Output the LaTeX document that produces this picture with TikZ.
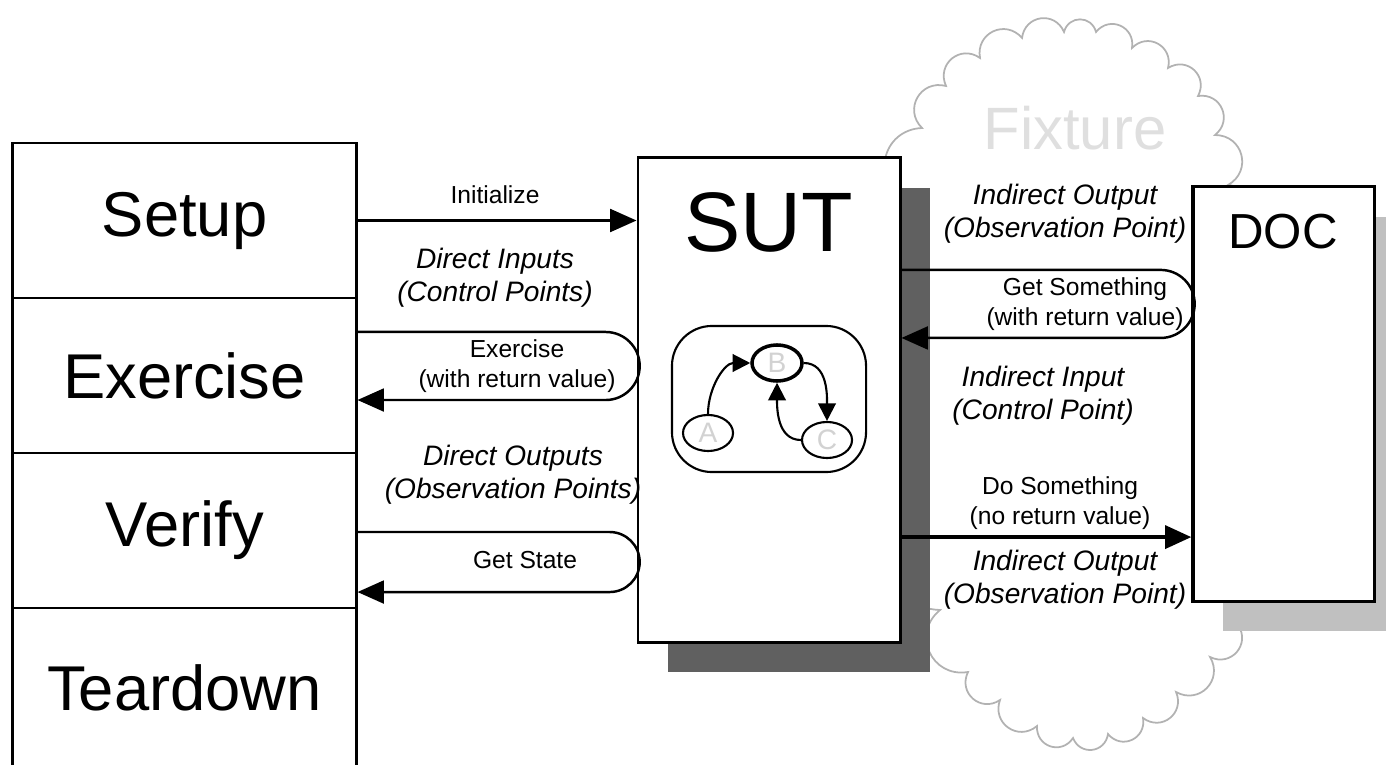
\documentclass[tikz,border=0pt]{standalone}
\usepackage{fontspec}
\setmainfont{Liberation Sans}
\usetikzlibrary{arrows.meta,shapes.geometric}

\definecolor{sutshade}{RGB}{96,96,96}
\definecolor{docshade}{RGB}{192,192,192}

\tikzset{
  phase/.style={draw,line width=0.8pt,minimum width=3.43cm,minimum height=1.55cm,font=\fontsize{18}{20}\selectfont},
  flow/.style={line width=0.7pt,-{Triangle[length=7.5pt,width=6.5pt]}},
  small/.style={font=\fontsize{7}{8.5}\selectfont,align=center},
  point/.style={font=\fontsize{8}{9.5}\selectfont\itshape,align=center},
  state/.style={draw,ellipse,line width=0.6pt,minimum width=0.5cm,minimum height=0.36cm,inner sep=0pt,text=gray!35,font=\fontsize{8}{8}\selectfont},
  shadowed/.style={preaction={fill=#1,transform canvas={shift={(0.3cm,-0.3cm)}}}},
  puff/.style={bend left=75,looseness=1.4}
}

\begin{document}
\begin{tikzpicture}[x=0.01cm,y=-0.01cm]
\useasboundingbox (0,0) rectangle (1386,764);
% fixture cloud, behind everything (its sides hide behind the boxes)
\draw[gray!60,line width=0.5pt] (906,200)
  \foreach \x/\y in {922/128,946/86,980/58,1022/38,1064/32,1096/32,1132/48,1168/68,1198/96,1215/135,1228/185,
                     1242/300,1242/410,1242/520,1238/625,
                     1210/657,1176/692,1143/718,1108/734,1073/738,1037/726,1000/700,968/672,940/610,
                     915/500,908/400,906/300}
  { to[puff] (\x,\y) } to[puff] (906,200);
\node (fixtxt) [text=gray!25,font=\fontsize{17}{17}\selectfont] at (1075,128) {Fixture};

% system under test and depended-on component
\node (sut) [draw,fill=white,line width=0.8pt,minimum width=2.62cm,minimum height=4.84cm,shadowed=sutshade] at (769,400) {};
\node (suttxt) [font=\fontsize{24}{24}\selectfont] at (769,222) {SUT};
\node (doc) [draw,fill=white,line width=0.9pt,minimum width=1.81cm,minimum height=4.14cm,shadowed=docshade] at (1283.5,394) {};
\node (doctxt) [font=\fontsize{14}{14}\selectfont] at (1283,232) {DOC};

% state machine inside the SUT
\node (fsm) [draw,line width=0.6pt,rounded corners=0.4cm,minimum width=1.94cm,minimum height=1.46cm] at (769,399) {};
\node (sa) [state] at (708,433) {A};
\node (sb) [state,line width=1pt] at (777,363) {B};
\node (sc) [state] at (827,440) {C};
\path[line width=0.6pt,-{Triangle[length=5pt,width=5pt]}]
(sa) edge[out=90,in=180] (sb)
(sb) edge[out=0,in=90] (sc)
(sc) edge[out=180,in=-90] (sb);

% test phases
\node (setup) [phase] at (184.5,220.5) {Setup};
\node (exer) [phase] at (184.5,375.5) {Exercise};
\node (verify) [phase] at (184.5,530.5) {Verify};
\node (tear) [phase,minimum height=1.6cm] at (184.5,688) {Teardown};

% calls from the test into the SUT
\draw[flow] (setup.east) -- (setup.east -| sut.west);
\draw[flow] ([yshift=0.435cm]exer.east) -- ++(2.48cm,0) arc[start angle=90,end angle=-90,radius=0.34cm] -- ++(-2.48cm,0);
\draw[flow] ([yshift=-0.015cm]verify.east) -- ++(2.52cm,0) arc[start angle=90,end angle=-90,radius=0.3cm] -- ++(-2.52cm,0);

% calls from the SUT into the DOC
\draw[flow] ([yshift=1.3cm]sut.east) -- ++(2.59cm,0) arc[start angle=90,end angle=-90,radius=0.34cm] -- ++(-2.59cm,0);
\draw[flow,line width=1.2pt] ([yshift=-1.37cm]sut.east) -- ([yshift=-1.37cm]sut.east -| doc.west);

\node (linit) [small] at (495,195) {Initialize};
\node (ldin) [point] at (495,278) {Direct Inputs\\(Control Points)};
\node (lex) [small] at (517,366) {Exercise\\(with return value)};
\node (ldout) [point] at (513,475) {Direct Outputs\\(Observation Points)};
\node (lgs) [small] at (525,560) {Get State};
\node (liout) [point] at (1065,214) {Indirect Output\\(Observation Point)};
\node (lget) [small] at (1085,304) {Get Something\\(with return value)};
\node (liin) [point] at (1043,396) {Indirect Input\\(Control Point)};
\node (ldo) [small] at (1060,503) {Do Something\\(no return value)};
\node (liout2) [point] at (1065,580) {Indirect Output\\(Observation Point)};
\end{tikzpicture}
\end{document}
